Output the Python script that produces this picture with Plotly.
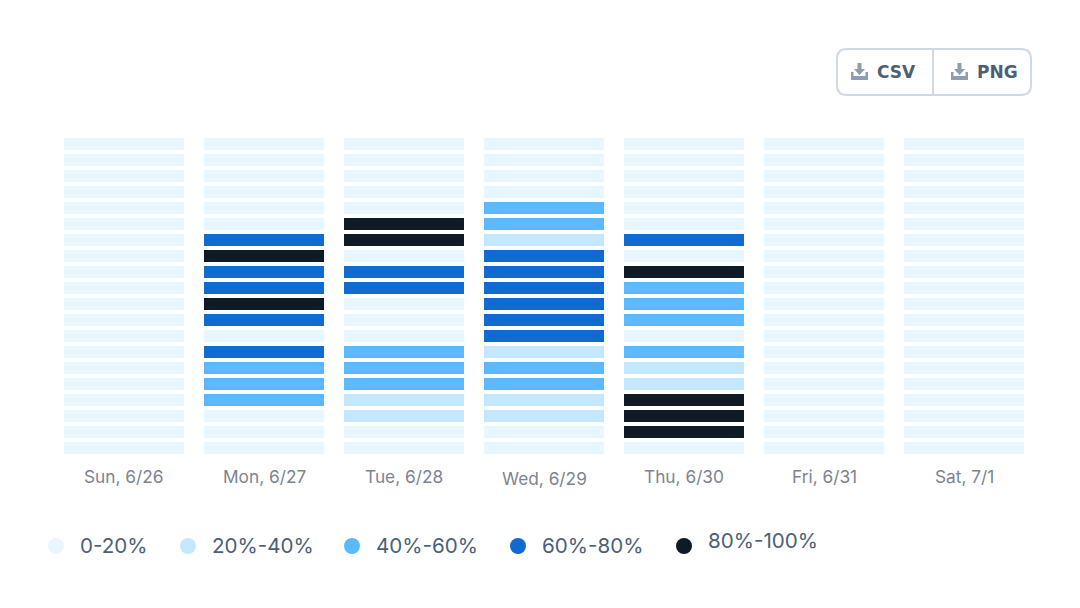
import plotly.graph_objects as go

days = ["Sun, 6/26", "Mon, 6/27", "Tue, 6/28", "Wed, 6/29", "Thu, 6/30", "Fri, 6/31", "Sat, 7/1"]
rows = list(range(20))
legend_labels = ["0-20%", "20%-40%", "40%-60%", "60%-80%", "80%-100%"]
colors = ["#e7f6ff", "#c4e8ff", "#5cb8ff", "#106bd0", "#0e1a26"]

sun = [0] * 20
mon = [0, 0, 0, 0, 0, 0, 3, 4, 3, 3, 4, 3, 0, 3, 2, 2, 2, 0, 0, 0]
tue = [0, 0, 0, 0, 0, 4, 4, 0, 3, 3, 0, 0, 0, 2, 2, 2, 1, 1, 0, 0]
wed = [0, 0, 0, 0, 2, 2, 1, 3, 3, 3, 3, 3, 3, 1, 2, 2, 1, 1, 0, 0]
thu = [0, 0, 0, 0, 0, 0, 3, 0, 4, 2, 2, 2, 0, 2, 1, 1, 4, 4, 4, 0]
fri = [0] * 20
sat = [0] * 20
columns = [sun, mon, tue, wed, thu, fri, sat]
z = [[col[r] for col in columns] for r in rows]

W, H = 1080, 608


def px(x):
    return x / W


def py(y):
    return 1 - y / H


colorscale = []
for i, c in enumerate(colors):
    colorscale += [[i / 5, c], [(i + 1) / 5, c]]

fig = go.Figure(
    go.Heatmap(
        z=z, x=days, y=rows, zmin=0, zmax=5, colorscale=colorscale, showscale=False,
        xgap=20, ygap=4, hoverinfo="skip",
    )
)

shapes = []
annotations = []

# day labels (Wed sits slightly lower in the reference)
label_y = [476.5, 476.5, 476.5, 478.5, 476.5, 476.5, 476.5]
for d, y in zip(days, label_y):
    annotations.append(dict(
        x=d, xref="x", y=py(y), yref="paper", text=d, showarrow=False,
        font=dict(family="Inter", size=17.3, color="#7d8490"), xanchor="center", yanchor="middle",
    ))

# legend
key_x = [56, 188, 352, 518, 684]
text_x = [78, 210, 374, 540, 706]
text_y = [545.5, 545.5, 545.5, 545.5, 540]
for label, c, kx, tx, ty in zip(legend_labels, colors, key_x, text_x, text_y):
    shapes.append(dict(type="circle", xref="paper", yref="paper", line_width=0, fillcolor=c,
                       x0=px(kx - 8), x1=px(kx + 8), y0=py(546 + 8), y1=py(546 - 8)))
    annotations.append(dict(
        x=px(tx), xref="paper", y=py(ty), yref="paper", text=label, showarrow=False,
        font=dict(family="Inter", size=20.6, color="#4c6075"), xanchor="left", yanchor="middle",
    ))

# buttons
border = "#cfdae4"
shapes.append(dict(
    type="path", xref="paper", yref="paper", line=dict(color=border, width=2), fillcolor="white",
    path=(f"M {px(847)} {py(49)} L {px(1021)} {py(49)} Q {px(1031)} {py(49)} {px(1031)} {py(59)} "
          f"L {px(1031)} {py(85)} Q {px(1031)} {py(95)} {px(1021)} {py(95)} L {px(847)} {py(95)} "
          f"Q {px(837)} {py(95)} {px(837)} {py(85)} L {px(837)} {py(59)} Q {px(837)} {py(49)} {px(847)} {py(49)} Z"),
))
shapes.append(dict(type="line", xref="paper", yref="paper", x0=px(933), x1=px(933), y0=py(49), y1=py(95),
                   line=dict(color=border, width=2)))
for ox in (851, 951):
    pts = [(6.5, 63), (10.5, 63), (10.5, 69), (14, 69), (8.5, 75), (3, 69), (6.5, 69)]
    arrow = "M " + " L ".join(f"{px(ox + a)} {py(b)}" for a, b in pts) + " Z"
    shapes.append(dict(type="path", xref="paper", yref="paper", path=arrow, fillcolor="#8d9eb0", line_width=0))
    tray = [(0, 72), (2.5, 72), (2.5, 76), (14.5, 76), (14.5, 72), (17, 72), (17, 80), (0, 80)]
    tp = "M " + " L ".join(f"{px(ox + a)} {py(b)}" for a, b in tray) + " Z"
    shapes.append(dict(type="path", xref="paper", yref="paper", path=tp, fillcolor="#8d9eb0", line_width=0))
for label, x in zip(["CSV", "PNG"], [896, 997]):
    annotations.append(dict(
        x=px(x), xref="paper", y=py(72), yref="paper", text=f"<b>{label}</b>", showarrow=False,
        font=dict(family="DejaVu Sans", size=17, color="#4c6075"), xanchor="center", yanchor="middle",
    ))

fig.update_layout(
    width=W, height=H, margin=dict(l=0, r=0, t=0, b=0), paper_bgcolor="white", plot_bgcolor="white",
    xaxis=dict(domain=[px(54), px(1034)], showticklabels=False, showgrid=False, zeroline=False,
               ticks="", showline=False, type="category", categoryorder="array", categoryarray=days),
    yaxis=dict(domain=[py(456), py(136)], autorange="reversed", showticklabels=False, showgrid=False,
               zeroline=False, ticks="", showline=False),
    shapes=shapes, annotations=annotations,
)

fig.write_html("out.html", config=dict(displayModeBar=False),
               post_script="document.body.style.margin='0';document.body.style.overflow='hidden';")
